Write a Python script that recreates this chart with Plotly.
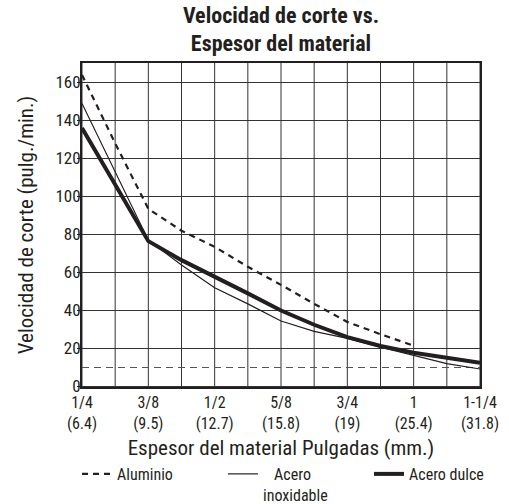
import plotly.graph_objects as go

# x positions: index in 1/16" steps between labelled thicknesses
x_idx = [0, 1, 2, 3, 4, 5, 6, 7, 8, 9, 10, 11, 12]
tick_vals = [0, 2, 4, 6, 8, 10, 12]
tick_text = ["1/4<br>(6.4)", "3/8<br>(9.5)", "1/2<br>(12.7)", "5/8<br>(15.8)",
             "3/4<br>(19)", "1<br>(25.4)", "1-1/4<br>(31.8)"]
y_ticks = [0, 20, 40, 60, 80, 100, 120, 140, 160]
y_range = [-0.263, 170.263]

aluminio_x = [0, 1, 2, 3, 4, 5, 6, 7, 8, 9, 10]
aluminio_y = [164, 128, 93.5, 82, 73.5, 63, 53.5, 43.5, 34, 27.5, 21.5]

inox_x = x_idx
inox_y = [149, 113, 77, 64, 52, 43.5, 34.5, 29, 25.3, 20.7, 16.2, 12, 9.2]

dulce_x = x_idx
dulce_y = [136, 106, 76.5, 66.5, 58, 49, 40, 32.5, 26, 21.3, 17.8, 15.3, 12.5]

ref_line_y = 10

FONT = "Liberation Sans Narrow, Roboto Condensed, Arial Narrow, Liberation Sans, sans-serif"
INK = "#231f20"
GRID = "#333333"

fig = go.Figure()

# vertical grid lines
vx, vy = [], []
for xv in x_idx:
    vx += [xv, xv, None]
    vy += [y_range[0], y_range[1], None]
fig.add_trace(go.Scatter(x=vx, y=vy, mode="lines", showlegend=False, hoverinfo="skip",
                         line=dict(color=GRID, width=1, simplify=False)))

# horizontal grid lines as 1px-high filled strips anchored at each tick value
for yv in y_ticks:
    fig.add_shape(type="rect", xref="x", yref="y", x0=x_idx[0], x1=x_idx[-1],
                  ysizemode="pixel", yanchor=yv, y0=-0.5, y1=0.5,
                  fillcolor=GRID, line=dict(width=0), layer="between")

fig.add_trace(go.Scatter(x=[x_idx[0], x_idx[-1]], y=[ref_line_y, ref_line_y], mode="lines",
                         showlegend=False, hoverinfo="skip",
                         line=dict(color="#555", width=1, dash="7px,5px")))

fig.add_trace(go.Scatter(x=aluminio_x, y=aluminio_y, mode="lines", name="Aluminio",
                         line=dict(color=INK, width=2.2, dash="6px,5px")))
fig.add_trace(go.Scatter(x=inox_x, y=inox_y, mode="lines",
                         name="&nbsp;&nbsp;&nbsp;Acero<br>inoxidable",
                         line=dict(color=INK, width=1.2)))
fig.add_trace(go.Scatter(x=dulce_x, y=dulce_y, mode="lines", name="Acero dulce",
                         line=dict(color=INK, width=4)))

fig.update_layout(
    template="none",
    width=509, height=504,
    margin=dict(l=82, r=29, t=63, b=117, autoexpand=False),
    paper_bgcolor="white", plot_bgcolor="rgba(0,0,0,0)",
    font=dict(family=FONT, color=INK, size=16),
    title=dict(text="<b>Velocidad de corte vs.<br>Espesor del material</b>",
               x=0.552, xanchor="center", y=0.955, yanchor="top",
               font=dict(size=22, family=FONT, color=INK)),
    showlegend=True,
    legend=dict(orientation="h", x=-0.0125, xanchor="left", y=-0.216, yanchor="top",
                font=dict(size=16, family=FONT, color=INK), valign="top",
                traceorder="normal", bgcolor="rgba(0,0,0,0)", itemwidth=30,
                entrywidth=101, entrywidthmode="pixels", tracegroupgap=0),
    xaxis=dict(range=[0, 12], tickvals=tick_vals, ticktext=tick_text, tickangle=0,
               showgrid=False,
               showline=True, linecolor=INK, linewidth=2, mirror=True,
               ticks="", zeroline=False, automargin=False,
               title=dict(text="Espesor del material Pulgadas (mm.)", standoff=8,
                          font=dict(size=21, family=FONT, color=INK)),
               tickfont=dict(size=16, family=FONT, color=INK)),
    yaxis=dict(range=y_range, tickvals=y_ticks,
               showgrid=False,
               showline=True, linecolor=INK, linewidth=2, mirror=True,
               ticks="outside", ticklen=3, tickcolor=INK, zeroline=False, automargin=False,
               ticklabelstandoff=-7,
               title=dict(text="Velocidad de corte (pulg./min.)", standoff=16,
                          font=dict(size=21, family=FONT, color=INK)),
               tickfont=dict(size=17, family=FONT, color=INK)),
)

fig.write_html("out.html", post_script="document.body.style.margin='0px';",
               config={"displayModeBar": False})
